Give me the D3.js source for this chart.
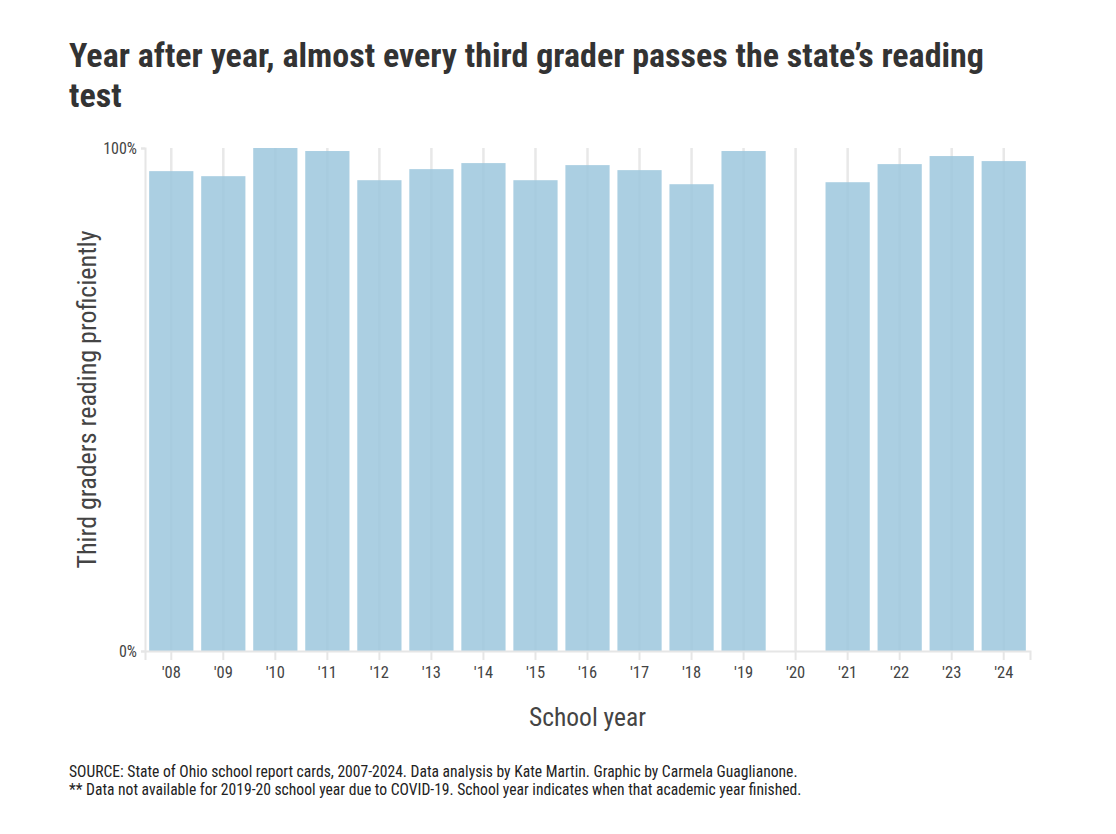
<!DOCTYPE html>
<html>
<head>
<meta charset="utf-8">
<script src="https://cdn.jsdelivr.net/npm/d3@7"></script>
<style>
  body { margin: 0; background: #fff; }
  text { font-family: "Roboto Condensed", "Liberation Sans Narrow", Roboto, sans-serif; }
</style>
</head>
<body>
<div id="chart"></div>
<script>
const svgWidth = 1116;
const svgHeight = 834;

// school years (year the academic year finished)
const years = ["'08", "'09", "'10", "'11", "'12", "'13", "'14", "'15", "'16",
  "'17", "'18", "'19", "'20", "'21", "'22", "'23", "'24"];
// share of third graders reading proficiently (%), null = not available
const proficient = [95.4, 94.4, 100, 99.4, 93.6, 95.8, 97.0, 93.6, 96.6,
  95.6, 92.8, 99.4, null, 93.2, 96.8, 98.4, 97.4];
const yTicks = [0, 100];

const margin = { top: 148, right: 86, bottom: 183, left: 145 };
const width = svgWidth - margin.left - margin.right;
const height = svgHeight - margin.top - margin.bottom;
const fontStack = "\"Roboto Condensed\", \"Liberation Sans Narrow\", Roboto, sans-serif";

const data = years.map((y, i) => ({ year: y, value: proficient[i] }));

const svg = d3.select("#chart")
  .append("svg")
  .attr("width", svgWidth)
  .attr("height", svgHeight);

// title
const title = svg.append("text")
  .attr("x", 69)
  .attr("y", 67)
  .attr("fill", "#333")
  .attr("font-size", 34)
  .attr("font-weight", "bold");
title.append("tspan").attr("x", 69).text("Year after year, almost every third grader passes the state\u2019s reading");
title.append("tspan").attr("x", 69).attr("dy", 40).text("test");

const chartGroup = svg.append("g")
  .attr("transform", `translate(${margin.left}, ${margin.top})`);

const x = d3.scaleBand()
  .domain(years)
  .range([0, width])
  .paddingInner(0.15)
  .paddingOuter(0.08);

const y = d3.scaleLinear()
  .domain([0, 100])
  .range([height, 0]);

// vertical grid lines
chartGroup.selectAll(".grid")
  .data(years)
  .enter()
  .append("line")
  .attr("x1", d => x(d) + x.bandwidth() / 2)
  .attr("x2", d => x(d) + x.bandwidth() / 2)
  .attr("y1", 0)
  .attr("y2", height)
  .attr("stroke", "#e8e8e8")
  .attr("stroke-width", 2.5);

// bars
chartGroup.selectAll("rect")
  .data(data.filter(d => d.value !== null))
  .enter()
  .append("rect")
  .attr("x", d => x(d.year))
  .attr("y", d => y(d.value))
  .attr("width", x.bandwidth())
  .attr("height", d => height - y(d.value))
  .attr("fill", "#9cc7dd")
  .attr("fill-opacity", 0.85);

// x axis
const xAxis = chartGroup.append("g")
  .attr("transform", `translate(0, ${height})`)
  .call(d3.axisBottom(x).tickSize(9).tickPadding(6));
xAxis.select(".domain").attr("stroke", "#e6e6e6").attr("stroke-width", 2);
xAxis.selectAll(".tick line").attr("stroke", "#e6e6e6").attr("stroke-width", 2);
xAxis.selectAll(".tick text")
  .attr("fill", "#444")
  .attr("font-size", 16.5)
  .style("font-family", fontStack);

// y axis
const yAxis = chartGroup.append("g")
  .call(d3.axisLeft(y).tickValues(yTicks).tickFormat(d => d + "%").tickSize(4).tickPadding(4));
yAxis.select(".domain").attr("stroke", "#e6e6e6").attr("stroke-width", 2);
yAxis.selectAll(".tick line").attr("stroke", "#e6e6e6").attr("stroke-width", 2);
yAxis.selectAll(".tick text")
  .attr("fill", "#444")
  .attr("font-size", 16)
  .style("font-family", fontStack);

// axis titles
svg.append("text")
  .attr("x", margin.left + width / 2)
  .attr("y", 726)
  .attr("text-anchor", "middle")
  .attr("fill", "#444")
  .attr("font-size", 25.5)
  .text("School year");

svg.append("text")
  .attr("transform", `translate(96, ${margin.top + height / 2}) rotate(-90)`)
  .attr("text-anchor", "middle")
  .attr("fill", "#444")
  .attr("font-size", 26)
  .text("Third graders reading proficiently");

// footer
const footer = svg.append("text")
  .attr("x", 69)
  .attr("y", 777)
  .attr("fill", "#222")
  .attr("font-size", 15.6);
footer.append("tspan").attr("x", 69)
  .text("SOURCE: State of Ohio school report cards, 2007-2024. Data analysis by Kate Martin. Graphic by Carmela Guaglianone.");
footer.append("tspan").attr("x", 69).attr("dy", 18)
  .text("** Data not available for 2019-20 school year due to COVID-19. School year indicates when that academic year finished.");
</script>
</body>
</html>
